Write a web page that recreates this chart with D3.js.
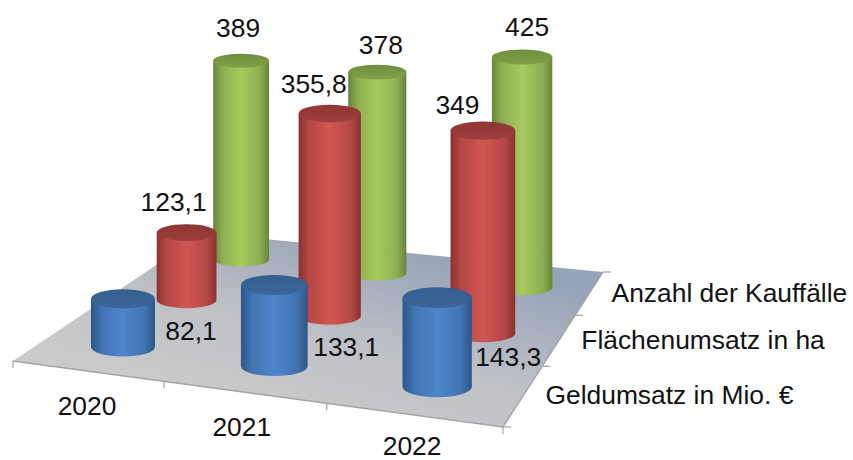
<!DOCTYPE html>
<html><head><meta charset="utf-8">
<style>html,body{margin:0;padding:0;background:#fff}svg{display:block}text{font-family:"Liberation Sans",Arial,sans-serif;font-size:26.4px;fill:#111}</style>
<script src="https://cdn.jsdelivr.net/npm/d3@7"></script></head><body>
<div id="chart"></div>
<script>
const years = ["2020","2021","2022"];
const seriesNames = ["Geldumsatz in Mio. €","Flächenumsatz in ha","Anzahl der Kauffälle"];
const geldumsatz = [82.1,133.1,143.3];
const flaechenumsatz = [123.1,355.8,349];
const kauffaelle = [389,378,425];
const valueLabels = [["82,1","133,1","143,3"],["123,1","355,8","349"],["389","378","425"]];

const W=853,H=460;
const svg=d3.select("#chart").append("svg").attr("width",W).attr("height",H);
const defs=svg.append("defs");

// floor quad corners: front-left, front-right, back-right, back-left
const quad=[[13,361],[503,427],[603,272],[204,233]];
function homography(q){
  const [[x0,y0],[x1,y1],[x2,y2],[x3,y3]]=q;
  const dx1=x1-x2,dx2=x3-x2,dx3=x0-x1+x2-x3,dy1=y1-y2,dy2=y3-y2,dy3=y0-y1+y2-y3;
  const den=dx1*dy2-dx2*dy1;
  const g=(dx3*dy2-dx2*dy3)/den,h=(dx1*dy3-dx3*dy1)/den;
  const a=x1-x0+g*x1,b=x3-x0+h*x3,c=x0,d=y1-y0+g*y1,e=y3-y0+h*y3,f=y0;
  return (u,v)=>{const w=g*u+h*v+1;return [(a*u+b*v+c)/w,(d*u+e*v+f)/w];};
}
const project=homography(quad);
const uScale=d3.scaleBand().domain(years).range([0,1]);
const vScale=d3.scaleBand().domain(seriesNames).range([0,1]);
const heightPerRadius=d3.scaleLinear().domain([0,100]).range([0,1.83]);
const radiusBySeries=d3.scaleOrdinal().domain(seriesNames).range([33,30.8,28.8]);
const flatBySeries=d3.scaleOrdinal().domain(seriesNames).range([.3,.28,.25]);
const growth=d3.scaleLinear().domain([0,2]).range([.97,1.05]);
const heightGrowth=d3.scaleLinear().domain([0,1,2]).range([.97,1.01,1.03]);

const palette=[
 {edge:"#2c5688",mid:"#4f86cc",top:"#3b6698",top2:"#34608f"},
 {edge:"#8a3130",mid:"#d05653",top:"#9c3d3b",top2:"#8f3634"},
 {edge:"#67843a",mid:"#a6ca5f",top:"#7f9f48",top2:"#6f8f3e"}];
palette.forEach((p,i)=>{
  const g=defs.append("linearGradient").attr("id","body"+i);
  [[0,p.edge],[.16,d3.interpolateRgb(p.edge,p.mid)(.6)],[.5,p.mid],[.84,d3.interpolateRgb(p.edge,p.mid)(.6)],[1,p.edge]]
   .forEach(s=>g.append("stop").attr("offset",s[0]).attr("stop-color",s[1]));
  const t=defs.append("linearGradient").attr("id","top"+i).attr("x1",0).attr("x2",0).attr("y1",0).attr("y2",1);
  t.append("stop").attr("offset",0).attr("stop-color",p.top2);
  t.append("stop").attr("offset",1).attr("stop-color",p.top);
});
const fg=defs.append("linearGradient").attr("id","floor").attr("gradientUnits","userSpaceOnUse")
 .attr("x1",300).attr("y1",425).attr("x2",350).attr("y2",235);
[[0,"#cbcbcb"],[.45,"#bfc1c6"],[1,"#98a4b9"]].forEach(s=>fg.append("stop").attr("offset",s[0]).attr("stop-color",s[1]));
defs.append("filter").attr("id","soft").append("feGaussianBlur").attr("stdDeviation",.45);

// floor
svg.append("path").attr("d",d3.line()(quad)+"Z").attr("fill","url(#floor)");
svg.append("path").attr("d",d3.line()([quad[0],quad[1],quad[2]])).attr("fill","none").attr("stroke","#a3a3a3").attr("stroke-width",1.4);
// axis ticks
const tickG=svg.append("g").attr("stroke","#a3a3a3").attr("stroke-width",1.2);
d3.range(0,4).forEach(i=>{const p=project(i/3,0);
  tickG.append("line").attr("x1",p[0]).attr("x2",p[0]).attr("y1",p[1]).attr("y2",p[1]+7);
  const r=project(1,i/3);
  tickG.append("line").attr("x1",r[0]).attr("x2",r[0]+8).attr("y1",r[1]).attr("y2",r[1]);
});

// cylinders back to front
const allValues=[geldumsatz,flaechenumsatz,kauffaelle];
const marks=[];
seriesNames.forEach((s,j)=>years.forEach((y,i)=>{
  const [px,py]=project(uScale(y)+uScale.bandwidth()/2,vScale(s)+vScale.bandwidth()/2);
  const cx=px+i*j*1.7, cy=py+2.5;
  const rx=radiusBySeries(s)*growth(i), ry=rx*flatBySeries(s);
  const h=heightPerRadius(allValues[j][i])*radiusBySeries(s)*heightGrowth(i);
  marks.push({i,j,cx,cy,rx,ry,h,label:valueLabels[j][i]});
}));
marks.sort((a,b)=>b.j-a.j||a.i-b.i);
const cyl=svg.append("g").attr("filter","url(#soft)").selectAll("g").data(marks).join("g");
cyl.append("path").attr("fill",d=>`url(#body${d.j})`)
 .attr("d",d=>`M${d.cx-d.rx},${d.cy-d.h}L${d.cx-d.rx},${d.cy}A${d.rx},${d.ry} 0 0 0 ${d.cx+d.rx},${d.cy}L${d.cx+d.rx},${d.cy-d.h}Z`);
cyl.append("ellipse").attr("fill",d=>`url(#top${d.j})`)
 .attr("cx",d=>d.cx).attr("cy",d=>d.cy-d.h).attr("rx",d=>d.rx).attr("ry",d=>d.ry);

// value labels: offset from each cylinder
const labelNudge=[[[68,-6.5],[72,-10.5],[71,-20.5]],[[-13,-22],[-16,-20],[-25.4,-17]],[[-3,-24],[3.6,-18],[5,-21.5]]];
svg.append("g").selectAll("text").data(marks).join("text").attr("text-anchor","middle")
 .attr("x",d=>d.cx+labelNudge[d.j][d.i][0])
 .attr("y",d=>(d.j==0?d.cy:d.cy-d.h)+labelNudge[d.j][d.i][1])
 .text(d=>d.label);

// axis labels
const catOffset=[[0,44],[-2,44],[-1,40]];
svg.append("g").selectAll("text").data(years).join("text").attr("text-anchor","middle")
 .attr("x",(y,i)=>project(uScale(y)+uScale.bandwidth()/2,0)[0]+catOffset[i][0])
 .attr("y",(y,i)=>project(uScale(y)+uScale.bandwidth()/2,0)[1]+catOffset[i][1])
 .text(y=>y);
const serOffset=[[22,9],[22,9],[22,9]];
svg.append("g").selectAll("text").data(seriesNames).join("text")
 .attr("x",(s,j)=>project(1,vScale(s)+vScale.bandwidth()/2)[0]+serOffset[j][0])
 .attr("y",(s,j)=>project(1,vScale(s)+vScale.bandwidth()/2)[1]+serOffset[j][1])
 .text(s=>s);
</script></body></html>
